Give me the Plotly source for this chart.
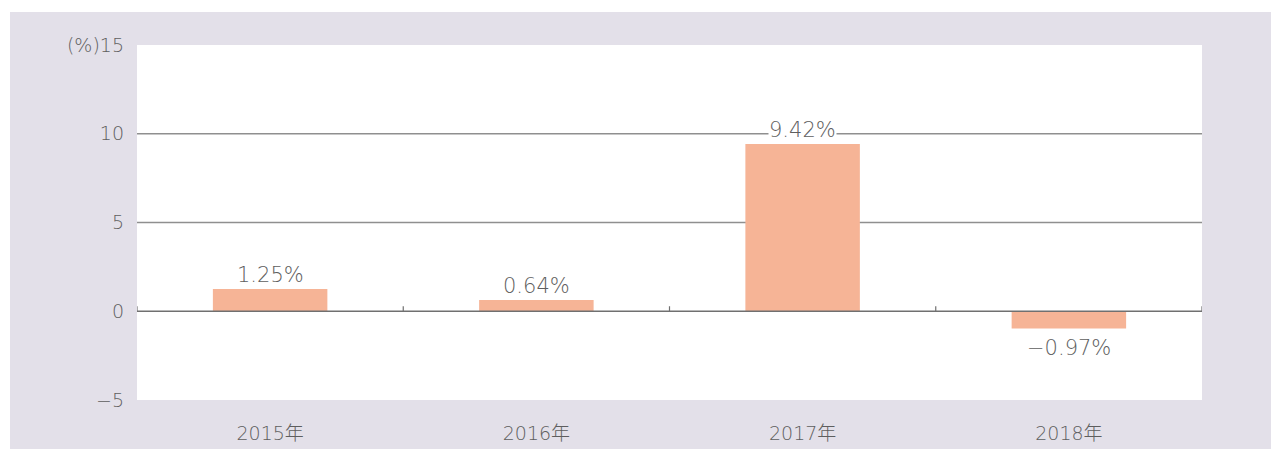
import plotly.graph_objects as go

categories = ["2015年", "2016年", "2017年", "2018年"]
values = [1.25, 0.64, 9.42, -0.97]
labels = ["1.25%", "0.64%", "9.42%", "−0.97%"]
ytickvals = [-5, 0, 5, 10, 15]
yticktext = ["−5", "0", "5", "10", "(%)15"]

W, H = 1271, 449
L, R, T, B = 137, 69, 45, 49
pw, ph = W - L - R, H - T - B

FONT = "DejaVu Sans, Noto Sans CJK JP"
TXT = "#5e5e5e"
BAR = "#f6b496"
LAV = "#e3e0e9"

fig = go.Figure()
fig.add_trace(go.Bar(x=categories, y=values, marker=dict(color=BAR, line=dict(width=0)),
                     width=0.43, hoverinfo="skip"))

# value labels
for c, v, t in zip(categories, values, labels):
    fig.add_annotation(x=c, y=v, text=t, showarrow=False,
                       yanchor="bottom" if v >= 0 else "top",
                       yshift=1 if v >= 0 else -7,
                       font=dict(family=FONT, size=21, color=TXT, weight=300),
                       bgcolor="white", borderpad=0)

# gridlines at 5 and 10
for gv in [5, 10]:
    fig.add_shape(type="line", xref="paper", x0=0, x1=1, y0=gv, y1=gv, yref="y",
                  line=dict(color="#8f8f8f", width=1.5), layer="below")

# zero line with boundary ticks
fig.add_shape(type="line", xref="paper", x0=0, x1=1, y0=0, y1=0, yref="y",
              line=dict(color="#707070", width=1.5), layer="above")
tick_h = 5 * (20 / ph)
for i in range(len(categories) + 1):
    fig.add_shape(type="line", xref="x", yref="y", x0=i - 0.5, x1=i - 0.5,
                  y0=0, y1=tick_h, line=dict(color="#707070", width=1.2), layer="above")

# white strips at top and left of the lavender panel
fig.add_shape(type="rect", xref="paper", yref="paper",
              x0=-L / pw - 0.01, x1=(W - L) / pw + 0.01, y0=1 + 33 / ph, y1=1 + T / ph + 0.01,
              fillcolor="white", line=dict(width=0), layer="below")
fig.add_shape(type="rect", xref="paper", yref="paper",
              x0=-L / pw - 0.01, x1=-(L - 10) / pw, y0=-B / ph - 0.01, y1=1 + T / ph + 0.01,
              fillcolor="white", line=dict(width=0), layer="below")

fig.update_layout(
    width=W, height=H,
    margin=dict(l=L, r=R, t=T, b=B, autoexpand=False),
    paper_bgcolor=LAV, plot_bgcolor="white",
    showlegend=False,
    bargap=0.57,
    xaxis=dict(range=[-0.5, 3.5], showgrid=False, zeroline=False, showline=False,
               ticks="", ticklabelstandoff=20,
               tickfont=dict(family=FONT, size=19, color=TXT, weight=300)),
    yaxis=dict(range=[-5, 15], tickvals=ytickvals, ticktext=yticktext,
               showgrid=False, zeroline=False, showline=False, ticks="",
               ticklabelstandoff=12,
               tickfont=dict(family=FONT, size=19, color=TXT, weight=300)),
)

fig.write_html("out.html", config={"displayModeBar": False},
               post_script="document.body.style.margin='0';")
